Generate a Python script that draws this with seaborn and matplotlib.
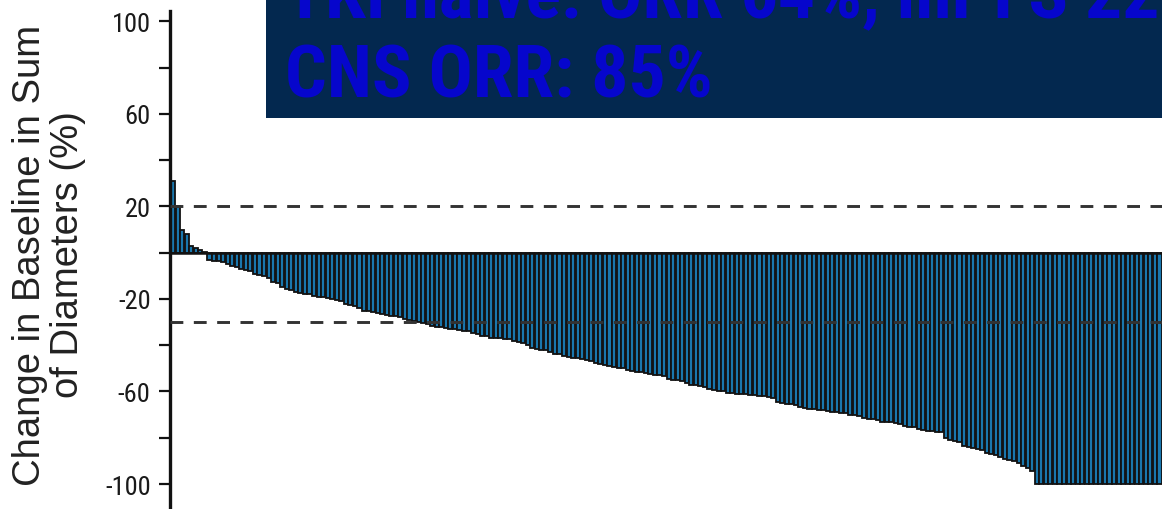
import os
import matplotlib
matplotlib.use("Agg")
import matplotlib.pyplot as plt
from matplotlib.patches import Rectangle
from matplotlib import font_manager
import seaborn as sns
import pandas as pd

positive_changes = [31, 20, 10, 8, 3, 2, 1, 0.5]
negative_changes = [
    -3, -3.4, -3.6, -4,
    -5, -5.6, -6,
    -7, -7.5, -8, -9, -9.5, -10, -11,
    -12.5, -13,
    -15, -15.5, -16, -17,
    -17.5, -18, -18, -18.5,
    -19, -19, -19.5, -20, -20.5, -21,
    -22, -22.5, -23, -24, -25,
    -25, -25.5, -26, -26.5, -27, -27.5, -27.5, -28,
    -28.5, -29, -29.5, -30,
    -30.5, -31, -31.5, -32, -32,
    -32.5, -33, -33, -33.5, -34, -34, -34.5,
    -35, -36, -36, -37,
    -37, -37, -37.5, -37.5, -38,
    -38.5, -39, -40, -41,
    -41.5, -42, -42, -43,
    -44, -44, -44.5, -45,
    -45.5, -45.5, -46, -46.5,
    -47, -47.5, -48, -48.5,
    -49, -49.5, -50,
    -50, -50.5, -51,
    -51.5, -51.5, -52,
    -52.5, -53, -53, -53.5,
    -54.5, -55, -55, -55.5,
    -56.5, -57, -57, -57.5, -58,
    -59, -59.5, -60, -60, -60.5, -60.5,
    -61, -61, -61, -61.5, -61.5,
    -62, -62, -62.5, -63,
    -64.5, -65, -65.5, -65.5,
    -66, -66.5, -67, -67.5, -67.5, -68, -68,
    -68.5, -69, -69, -69.5, -69.5, -70, -70, -70.5,
    -71.5, -72, -72, -72.5, -73, -73, -73, -73.5, -74,
    -75, -75.5, -75.5, -76,
    -76.5, -77, -77, -77.5, -77.5,
    -80, -81, -81.5, -82,
    -83.5, -84, -84.5, -85, -85.5,
    -86.5, -87, -87.5,
    -88.5, -89, -89.5, -90,
    -91, -92,
    -93, -94.5,
]
complete_responses = [-100] * 28

changes = positive_changes + negative_changes + complete_responses
patients = list(range(len(changes)))

major_ticks = [100, 60, 20, -20, -60, -100]
minor_ticks = [80, 40, 0, -40, -80]
threshold_lines = [20, -30]

y_label = "Change in Baseline in Sum\nof Diameters (%)"
banner_line1 = "TKI naïve: ORR 64%, mPFS 22.0 mo"
banner_line2 = "CNS ORR: 85%"

# ---- figure ----
sns.set_style("white")
plt.rcParams["font.family"] = ["Liberation Sans", "DejaVu Sans"]


def pick_condensed(bold):
    """Return a FontProperties for a condensed/narrow face if one is installed."""
    scored = []
    for f in font_manager.fontManager.ttflist:
        base = os.path.basename(f.fname).lower()
        name = f"{f.name.lower()} {base}"
        if not ("narrow" in name or "condensed" in name):
            continue
        if "mono" in name or "italic" in name or "oblique" in name or "serif" in name.replace("sans", ""):
            continue
        if "semi" in base or "extra" in base or "light" in base or "thin" in base \
                or "medium" in base or "black" in base or "semicondensed" in base:
            continue
        has_bold = "bold" in base
        if bold != has_bold:
            continue
        score = 0
        if "liberation" in name or "arial" in name:
            score += 10
        if "roboto" in name:
            score += 5
        if "noto" in name:
            score += 3
        scored.append((score, f.fname))
    if scored:
        scored.sort(reverse=True)
        return font_manager.FontProperties(fname=scored[0][1])
    return font_manager.FontProperties(family=["Liberation Sans", "DejaVu Sans"],
                                       weight="bold" if bold else "normal")


banner_fp = pick_condensed(True)
tick_fp = pick_condensed(False)

W, H = 1162, 510
fig = plt.figure(figsize=(W / 100, H / 100), dpi=100)
ax = fig.add_axes([170 / W, 0.0, 1 - 170 / W, 1 - 12 / H])

df = pd.DataFrame({"patient": patients, "change": changes})
sns.barplot(data=df, x="patient", y="change", color="#1a77ad", saturation=1,
            width=0.9, edgecolor="#111111", linewidth=1.3, ax=ax, zorder=2)

ax.set_xlim(-0.7, len(changes) - 0.45)
ax.set_ylim(-110.8, 104.5)

ax.axhline(0, color="#111111", lw=1.8, zorder=3)
for t in threshold_lines:
    ax.axhline(t, color="#333333", lw=2.1, ls=(0, (4.4, 3.6)), zorder=4)

ax.set_yticks(major_ticks)
ax.set_yticks(minor_ticks, minor=True)
ax.set_yticklabels([str(v) for v in major_ticks])
for lab in ax.get_yticklabels():
    lab.set_fontproperties(tick_fp)
    lab.set_fontsize(19)
    lab.set_color("#1a1a1a")
ax.tick_params(axis="y", which="both", direction="out", length=8, width=1.6,
               color="#111111", pad=6, left=True)
ax.set_xticks([])
ax.set_xlabel("")
ax.set_ylabel("")

for s in ["top", "right", "bottom"]:
    ax.spines[s].set_visible(False)
ax.spines["left"].set_linewidth(2.4)
ax.spines["left"].set_color("#111111")

fig.text(49 / W, 0.5, y_label, rotation=90, ha="center", va="center",
         multialignment="center", fontsize=27.5, color="#222222", linespacing=1.08)

# banner box
fig.add_artist(Rectangle((266 / W, 1 - 119 / H), 1 - 266 / W, 119 / H,
                         transform=fig.transFigure, facecolor="#03284f",
                         edgecolor="none", zorder=5))
t1 = fig.text(285 / W, 1 - 18 / H, banner_line1, ha="left", va="baseline",
              fontproperties=banner_fp, color="#0606cc", zorder=6)
t2 = fig.text(285 / W, 1 - 98 / H, banner_line2, ha="left", va="baseline",
              fontproperties=banner_fp, color="#0606cc", zorder=6)

# size the banner text so that the second line spans the same width as the reference
t2.set_fontsize(57)
fig.canvas.draw()
r = fig.canvas.get_renderer()
wpx = t2.get_window_extent(r).width
size = max(30, min(62, 57 * 427 / wpx))
t1.set_fontsize(size)
t2.set_fontsize(size)

fig.savefig("out.png", dpi=100)
